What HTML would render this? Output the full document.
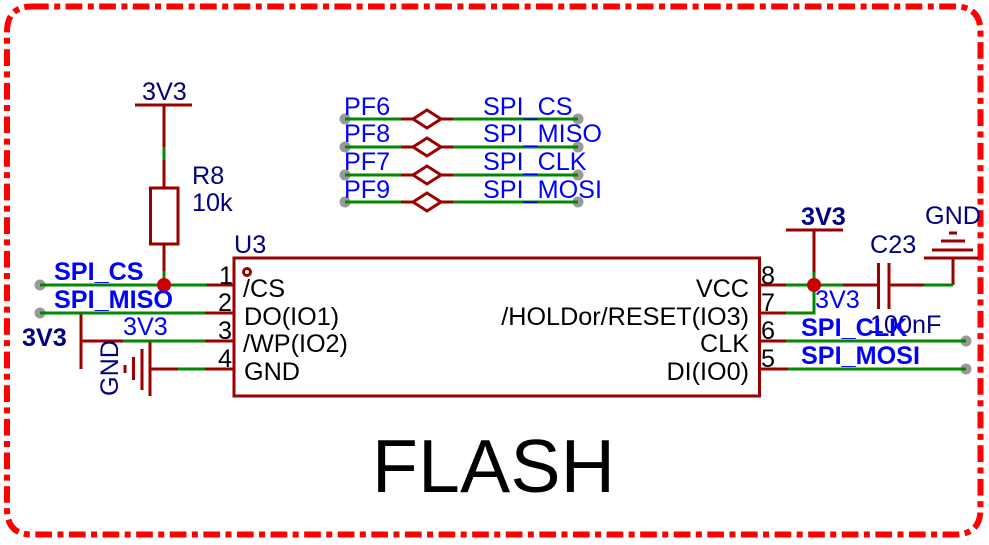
<!DOCTYPE html>
<html><head><meta charset="utf-8"><style>
html,body{margin:0;padding:0;background:#fff}
svg{display:block}
text{font-family:"Liberation Sans",sans-serif;font-size:25.2px}
.m{stroke:#990000;fill:none;stroke-width:3}
.g{stroke:#008800;fill:none;stroke-width:3}
.b{fill:#0000ff}
.n{fill:#000080}
.k{fill:#000}
.bb{fill:#0000ff;font-weight:bold}
.nb{fill:#000080;font-weight:bold}
</style></head><body>
<svg width="989" height="545" viewBox="0 0 989 545" xmlns="http://www.w3.org/2000/svg">
<path d="M32 6.5H955Q980.5 6.500 980.500 32V509Q980.500 534.500 955 534.500H32Q7 534.500 7 509V32Q7 6.500 32 6.500Z" fill="none" stroke="#ff0000" stroke-width="6" stroke-dasharray="16.700 5.500 6 5.400"/>

<!-- Middle net ties -->
<g id="ties">
<path class="m" d="M401 119H413L427 110L441 119L427 128L413 119M441 119H453"/>
<path class="m" d="M401 147H413L427 138L441 147L427 156L413 147M441 147H453"/>
<path class="m" d="M401 175H413L427 166L441 175L427 184L413 175M441 175H453"/>
<path class="m" d="M401 202H413L427 193L441 202L427 211L413 202M441 202H453"/>
<g fill="#999">
<circle cx="345" cy="119" r="5.500"/><circle cx="345" cy="147" r="5.500"/><circle cx="345" cy="175" r="5.500"/><circle cx="345" cy="202" r="5.500"/>
<circle cx="578" cy="119" r="5.500"/><circle cx="578" cy="147" r="5.500"/><circle cx="578" cy="175" r="5.500"/><circle cx="578" cy="202" r="5.500"/>
</g>
<path class="g" d="M345 119H401M453 119H578M345 147H401M453 147H578M345 175H401M453 175H578M345 202H401M453 202H578"/>
<text class="b" x="344" y="115">PF6</text><text class="b" x="344" y="142">PF8</text><text class="b" x="344" y="170">PF7</text><text class="b" x="344" y="198">PF9</text>
<text class="b" x="483" y="115">SPI_CS</text><text class="b" x="483" y="142">SPI_MISO</text><text class="b" x="483" y="170">SPI_CLK</text><text class="b" x="483" y="198">SPI_MOSI</text>
</g>

<!-- R8 -->
<path class="m" d="M135 105H192M164 105V188M150.500 188H178V244H150.500ZM164 244V285"/>
<path class="g" d="M164 147V160M164 271V285"/>
<text class="n" x="142" y="100">3V3</text>
<text class="n" x="192" y="184">R8</text>
<text class="n" x="192" y="211">10k</text>

<!-- U3 -->
<rect x="234" y="258" width="525.500" height="138" class="m"/>
<circle cx="247" cy="272" r="3.500" class="m" stroke-width="2.500"/>
<text class="n" x="234" y="253">U3</text>

<!-- Left wiring -->
<path class="m" d="M207 285H233M205 313H233M205 341H233M205 369H233M123 341H81M81 313V369M151 369H178M150 341V396M142 349V390M133.500 357V380M125 365V373"/>
<g fill="#999"><circle cx="40" cy="285" r="5.500"/><circle cx="40" cy="313" r="5.500"/></g>
<path class="g" d="M40 285H207M40 313H205M123 341H205M178 369H205"/>
<circle cx="164" cy="285" r="7" fill="#cc0000"/>
<text class="bb" x="54" y="280">SPI_CS</text>
<text class="bb" x="54" y="308">SPI_MISO</text>
<text class="nb" x="22" y="346">3V3</text>
<text class="b" x="123" y="335">3V3</text>
<text class="n" transform="translate(118 396) rotate(-90)">GND</text>

<text class="k" x="219" y="284">1</text><text class="k" x="218" y="311">2</text><text class="k" x="218" y="339">3</text><text class="k" x="218" y="367">4</text>
<text class="k" x="243" y="297">/CS</text>
<text class="k" x="244" y="325">DO(IO1)</text>
<text class="k" x="243" y="352">/WP(IO2)</text>
<text class="k" x="244" y="380">GND</text>

<text class="k" text-anchor="end" x="749" y="297">VCC</text>
<text class="k" text-anchor="end" x="749" y="325">/HOLDor/RESET(IO3)</text>
<text class="k" text-anchor="end" x="749" y="352">CLK</text>
<text class="k" text-anchor="end" x="749" y="380">DI(IO0)</text>
<text class="k" x="761" y="284">8</text><text class="k" x="761" y="311">7</text><text class="k" x="761" y="339">6</text><text class="k" x="761" y="367">5</text>

<!-- Right wiring -->
<path class="m" d="M760 285H786M760 313H786M760 341H786M760 369H788M786 230H843M814 230V272M843 285H877M878.500 263V309M889 263V309M889 285H924M953 258V285M924 258H978M932 250H973M941 241H965M949 233H957"/>
<path class="g" d="M786 285H843M786 313H814V272M924 285H953"/>
<g fill="#999"><circle cx="966" cy="341" r="5.500"/><circle cx="966" cy="369" r="5.500"/></g>
<path class="g" d="M786 341H966M788 369H966"/>
<circle cx="814" cy="285" r="7" fill="#cc0000"/>
<text class="nb" x="801" y="225">3V3</text>
<text class="n" x="925" y="224">GND</text>
<text class="n" x="870" y="253">C23</text>
<text class="n" x="870" y="333">100nF</text>
<text class="b" x="815" y="308">3V3</text>
<text class="bb" x="801" y="336">SPI_CLK</text>
<text class="bb" x="801" y="364">SPI_MOSI</text>

<text class="k" x="372" y="492" style="font-size:75px;letter-spacing:0.300px">FLASH</text>
</svg>
</body></html>
